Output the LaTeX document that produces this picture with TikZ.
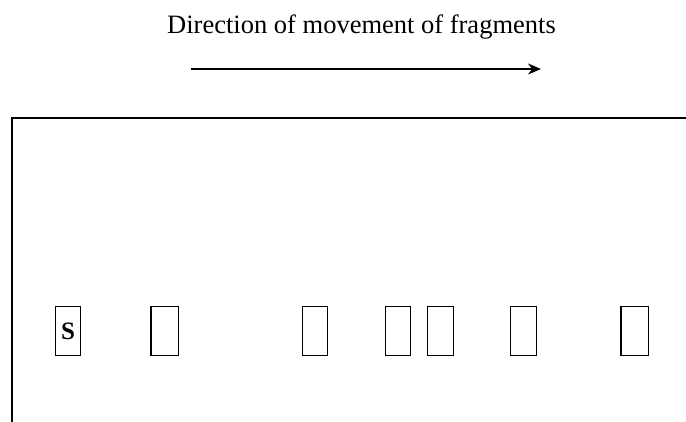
\documentclass[tikz,border=0pt]{standalone}
\usepackage{fontspec}
\setmainfont{Liberation Serif}
\usetikzlibrary{arrows.meta}
\tikzset{
	band/.style={draw, line width=1pt, inner sep=0pt, anchor=north west,
		minimum width=25pt, minimum height=49pt}
}
\newcommand{\band}[3] % name, left edge in px, width in px
{
	\node[band, minimum width=#3pt] (#1) at (#2, 306) {};
}

\begin{document}
\begin{tikzpicture}[x=1pt, y=-1pt]
	% 686px x 422px, 1px = 1pt
	\useasboundingbox (0, 0) rectangle (686, 422);
	% caption and arrow
	\node[anchor=base, font=\fontsize{26.5}{30}\selectfont] (caption) at (361.5, 34) {Direction of movement of fragments};
	\coordinate (from) at (191, 69);
	\coordinate (to) at (541, 69);
	\draw[line width=1.3pt, -{Stealth[length=13pt, width=11pt]}] (from) -- (to);
	% gel frame
	\draw[line width=2.8pt] (11, 118) -- (686, 118);
	\draw[line width=1.8pt] (12, 117) -- (12, 422);
	% bands
	\node[band, font=\bfseries\fontsize{25}{26}\selectfont] (s) at (55, 306) {S};
	\band{b1}{151}{27}
	\band{b2}{302}{25}
	\band{b3}{385}{25}
	\band{b4}{427}{26}
	\band{b5}{510}{26}
	\band{b6}{621}{27}
	% heavier left edges
	\draw[line width=2.6pt] (b1.north west) -- (b1.south west);
	\draw[line width=2.6pt] (b6.north west) -- (b6.south west);
\end{tikzpicture}
\end{document}
